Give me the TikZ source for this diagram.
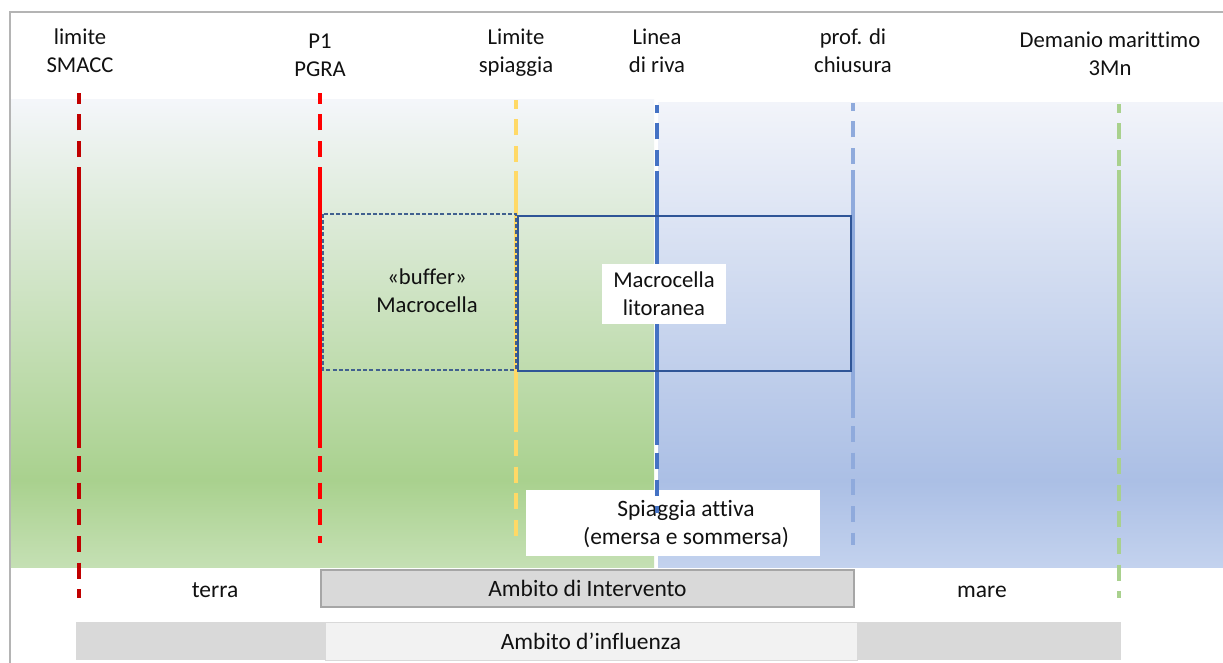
\documentclass[tikz,border=0pt]{standalone}
\usepackage{fontspec}
\setmainfont[Ligatures=NoCommon]{Carlito}
\definecolor{gB}{RGB}{197,224,180}
\definecolor{gM}{RGB}{169,209,142}
\definecolor{gT}{RGB}{244,246,250}
\definecolor{bB}{RGB}{195,210,238}
\definecolor{bM}{RGB}{171,191,229}
\definecolor{bT}{RGB}{242,244,250}
\definecolor{smacc}{HTML}{C00000}
\definecolor{pgra}{HTML}{FF0000}
\definecolor{spiag}{HTML}{FFD966}
\definecolor{riva}{HTML}{4472C4}
\definecolor{chius}{HTML}{8FAADC}
\definecolor{demanio}{HTML}{A9D18E}
\definecolor{framec}{HTML}{B4B4B4}
\definecolor{rectblue}{HTML}{2F5597}
\definecolor{dashblue}{HTML}{41608F}
\definecolor{txt}{HTML}{111111}
\definecolor{boxgray}{HTML}{D9D9D9}
\definecolor{boxborder}{HTML}{A6A6A6}
\definecolor{lightgray}{HTML}{F2F2F2}
\pgfdeclareverticalshading{greenpanel}{100bp}{color(0bp)=(gB); color(25bp)=(gB); color(34.3bp)=(gM); color(75bp)=(gT); color(100bp)=(gT)}
\pgfdeclareverticalshading{bluepanel}{100bp}{color(0bp)=(bB); color(25bp)=(bB); color(34.3bp)=(bM); color(75bp)=(bT); color(100bp)=(bT)}
\tikzset{
  zl/.style={line width=2.8pt},
  dashseg/.style={dash pattern=on 12pt off 8pt},
  lbl/.style={font=\fontsize{17}{21}\selectfont, text=txt, align=center, inner sep=0pt},
  lblb/.style={lbl, font=\fontsize{17.6}{21.5}\selectfont},
  whitebox/.style={fill=white, inner sep=0pt},
  graybox/.style={lblb, fill=boxgray, draw=boxborder, line width=0.9pt},
}
% x, top, dash end, solid start, solid end, bottom, colour
\newcommand\zoneline[7]{%
  \draw[zl,#7,dashseg] (#1,#3) -- (#1,#2);
  \draw[zl,#7] (#1,#4) -- (#1,#5);
  \draw[zl,#7,dashseg] (#1,#5+8) -- (#1,#6);
}
\begin{document}
\begin{tikzpicture}[x=0.75pt,y=-0.75pt]
\useasboundingbox (0,0) rectangle (1223,663);
\fill[white] (0,0) rectangle (1223,663);
% panels
\shade[shading=greenpanel] (11,100) rectangle (654,567);
\shade[shading=bluepanel] (658,103) rectangle (1223,567);
% frame
\draw[framec, line width=1.3pt] (10,663) -- (10,12) -- (1223,12);
% Spiaggia attiva box
\node[whitebox, minimum width=220.5pt, minimum height=49.5pt] (spiaggia) at (673,523) {};
\node[lblb] (spiaggiatxt) at (686,524) {Spiaggia attiva\\(emersa e sommersa)};
% vertical lines
\zoneline{79}{93}{157}{167}{448}{598}{smacc}
\zoneline{320}{93}{157}{167}{448}{543}{pgra}
\zoneline{516}{100}{162}{171}{432}{540}{spiag}
\zoneline{657}{105}{166}{171}{445}{513}{riva}
\zoneline{853}{103}{164}{170}{418}{545}{chius}
\zoneline{1119}{104}{166}{170}{450}{598}{demanio}
% rectangles
\draw[dashblue, line width=0.8pt, dash pattern=on 3pt off 1.6pt] (323,214) rectangle (516,370);
\draw[rectblue, line width=1.2pt] (518,216) rectangle (851,371);
\node[lbl] (buffer) at (427,291) {«buffer»\\Macrocella};
\node[lbl, fill=white, minimum width=93pt, minimum height=45pt] (macro) at (664,294) {Macrocella\\litoranea};
% top labels
\node[lbl] (lsmacc) at (80,51) {limite\\SMACC};
\node[lbl] (lpgra) at (320,55) {P1\\PGRA};
\node[lbl] (lspiag) at (516,53) {Limite\\spiaggia};
\node[lbl] (lriva) at (657,51) {Linea\\di riva};
\node[lbl] (lchius) at (853,51) {prof. di\\chiusura};
\node[lbl] (ldem) at (1110,54) {Demanio marittimo\\3Mn};
% bottom
\node[lblb, anchor=base] (terra) at (215,597) {terra};
\node[lblb, anchor=base] (mare) at (982,597) {mare};
\node[graybox, minimum width=399.75pt, minimum height=27.75pt] (interv) at (587.5,588.5) {Ambito di Intervento};
\node[fill=boxgray, inner sep=0pt, minimum width=783.75pt, minimum height=28.5pt] (inflbar) at (598.5,641) {};
\node[lblb, fill=lightgray, draw=boxgray, line width=0.6pt, minimum width=399pt, minimum height=29pt] (infl) at (591,641.5) {Ambito d’influenza};
\end{tikzpicture}
\end{document}
